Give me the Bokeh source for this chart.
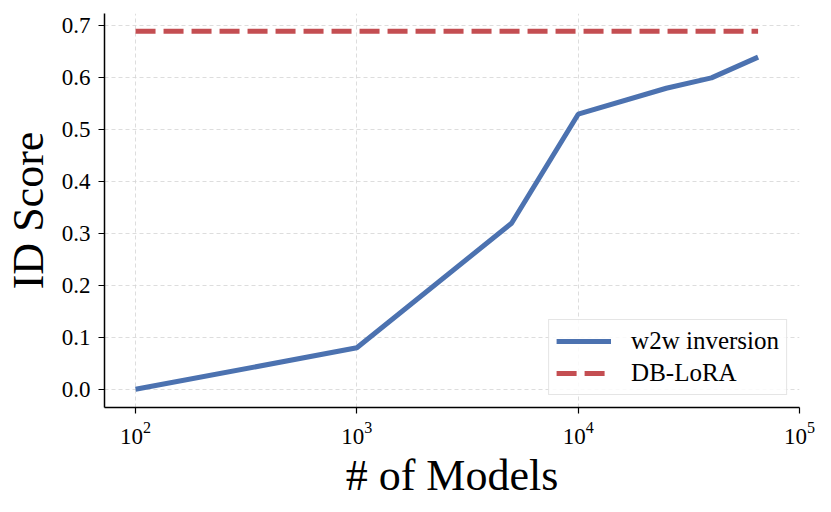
from bokeh.plotting import figure
from bokeh.models import Legend, LegendItem, FixedTicker, LogTicker, PrintfTickFormatter
from bokeh.embed import file_html
from bokeh.resources import INLINE

# data
n_models = [100, 1000, 5000, 10000, 25000, 40000, 65000]
w2w_score = [0.0, 0.08, 0.32, 0.53, 0.58, 0.60, 0.64]
dblora_x = [100, 65000]
dblora_score = [0.69, 0.69]
y_ticks = [0.0, 0.1, 0.2, 0.3, 0.4, 0.5, 0.6, 0.7]
x_ticks = [100, 1000, 10000, 100000]

SERIF = "Liberation Serif"

p = figure(frame_width=695, frame_height=394, x_axis_type="log",
           x_range=(72.4, 100000), y_range=(-0.035, 0.724),
           output_backend="svg", toolbar_location=None,
           min_border_left=97, min_border_right=23,
           min_border_top=13, min_border_bottom=89)
p.outline_line_color = None
p.background_fill_color = "white"

r1 = p.line(n_models, w2w_score, line_color="#4c72b0", line_width=5)
r2 = p.line(dblora_x, dblora_score, line_color="#c44e52", line_width=5,
            line_dash="20 8")

p.xaxis.ticker = LogTicker(num_minor_ticks=0, desired_num_ticks=4)
p.yaxis.ticker = FixedTicker(ticks=y_ticks)
p.yaxis.formatter = PrintfTickFormatter(format="%.1f")
p.xgrid.ticker = FixedTicker(ticks=x_ticks)

for ax in (p.xaxis, p.yaxis):
    ax.axis_line_color = "black"
    ax.axis_line_width = 1.5
    ax.major_tick_line_color = "black"
    ax.major_tick_line_width = 1.2
    ax.major_tick_out = 6
    ax.major_tick_in = 0
    ax.minor_tick_line_color = None
    ax.major_label_text_font = SERIF
    ax.major_label_text_font_size = "23px"
    ax.major_label_text_color = "black"
    ax.axis_label_text_font = SERIF
    ax.axis_label_text_font_size = "44px"
    ax.axis_label_text_font_style = "normal"
    ax.axis_label_text_color = "black"

p.xaxis.axis_label = "# of Models"
p.yaxis.axis_label = "ID Score"
p.xaxis.major_label_standoff = 8
p.yaxis.major_label_standoff = 8
p.xaxis.axis_label_standoff = 4
p.yaxis.axis_label_standoff = 6

for g in (p.xgrid, p.ygrid):
    g.grid_line_color = "#d4d4d4"
    g.grid_line_dash = "4 3"
    g.grid_line_width = 0.8

legend = Legend(items=[LegendItem(label="w2w inversion", renderers=[r1]),
                       LegendItem(label="DB-LoRA", renderers=[r2])],
                location="bottom_right")
legend.label_text_font = SERIF
legend.label_text_font_size = "25px"
legend.label_text_color = "black"
legend.glyph_width = 55
legend.glyph_height = 28
legend.label_standoff = 20
legend.spacing = 4
legend.padding = 7
legend.margin = 12
legend.border_line_color = "#cccccc"
legend.border_line_width = 1
legend.background_fill_alpha = 0.85
p.add_layout(legend)

open("out.html", "w").write(file_html(p, INLINE))
